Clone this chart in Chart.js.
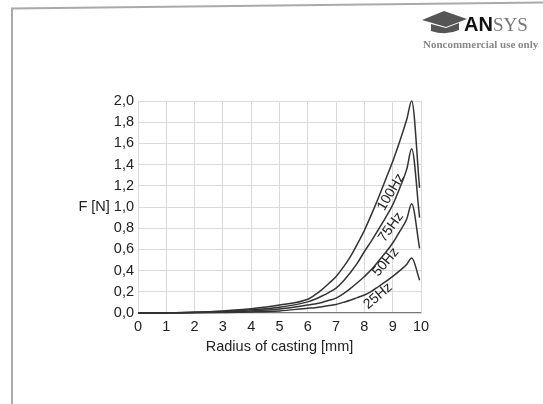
<!DOCTYPE html>
<html>
<head>
<meta charset="utf-8">
<script src="https://cdn.jsdelivr.net/npm/chart.js@4"></script>
<style>
  html, body { margin: 0; padding: 0; background: #fff; }
  #wrap { position: relative; width: 543px; height: 404px; }
</style>
</head>
<body>
<div id="wrap"><canvas id="kraftChart" width="543" height="404"></canvas></div>
<script>
// data
const radius = [0, 1, 2, 3, 4, 5, 6, 6.25, 6.5, 6.75, 7, 7.25, 7.5, 7.75, 8, 8.25, 8.5, 8.75, 9, 9.25, 9.5, 9.67, 9.95];
const f25  = [0, 0.0005, 0.002, 0.005, 0.01, 0.02, 0.045, 0.05, 0.06, 0.07, 0.08, 0.1, 0.12, 0.145, 0.17, 0.205, 0.25, 0.295, 0.345, 0.4, 0.46, 0.52, 0.31];
const f50  = [0, 0.001, 0.004, 0.01, 0.02, 0.038, 0.075, 0.085, 0.1, 0.12, 0.14, 0.18, 0.23, 0.285, 0.345, 0.41, 0.49, 0.57, 0.66, 0.77, 0.89, 1.03, 0.61];
const f75  = [0, 0.001, 0.006, 0.015, 0.03, 0.055, 0.105, 0.13, 0.16, 0.195, 0.235, 0.3, 0.38, 0.47, 0.58, 0.68, 0.79, 0.9, 1.02, 1.18, 1.36, 1.55, 0.9];
const f100 = [0, 0.002, 0.008, 0.02, 0.04, 0.075, 0.13, 0.17, 0.22, 0.28, 0.345, 0.43, 0.53, 0.65, 0.78, 0.93, 1.09, 1.26, 1.43, 1.62, 1.83, 2.0, 1.18];
const curveNames = ["25Hz", "50Hz", "75Hz", "100Hz"];
// where each curve name sits (in data units) and its slant
const labelAt = [[8.48, 0.16], [8.76, 0.48], [8.94, 0.81], [8.94, 1.14]];
const labelTilt = [-40, -50, -54, -60];
const xTitle = "Radius of casting [mm]";
const yTitle = "F [N]";

const schrift = "'Liberation Sans', Arial, sans-serif";

function punkte(werte) {
  return radius.map((r, i) => ({ x: r, y: werte[i] }));
}

const reihen = [f25, f50, f75, f100].map((w, i) => ({
  label: curveNames[i],
  data: punkte(w),
  borderColor: "#333",
  borderWidth: 1.5,
  pointRadius: 0,
  cubicInterpolationMode: "monotone",
  clip: false,
}));

// rahmen, logo und kurvennamen
const extras = {
  id: "extras",
  afterDraw(chart) {
    const ctx = chart.ctx;
    const xs = chart.scales.x, ys = chart.scales.y;
    ctx.save();

    // kurvennamen
    ctx.fillStyle = "#222";
    ctx.font = "14px " + schrift;
    ctx.textAlign = "center";
    ctx.textBaseline = "middle";
    curveNames.forEach((n, i) => {
      const px = xs.getPixelForValue(labelAt[i][0]);
      const py = ys.getPixelForValue(labelAt[i][1]);
      ctx.save();
      ctx.translate(px, py);
      ctx.rotate(labelTilt[i] * Math.PI / 180);
      ctx.fillText(n, 0, 0);
      ctx.restore();
    });

    // rahmen oben und links
    ctx.strokeStyle = "#aaa";
    ctx.lineWidth = 2;
    ctx.beginPath();
    ctx.moveTo(12, 404);
    ctx.lineTo(12, 8.5);
    ctx.lineTo(543, 2.5);
    ctx.stroke();

    // ANSYS logo
    ctx.fillStyle = "#555";
    ctx.beginPath();
    ctx.moveTo(422, 20);
    ctx.lineTo(444, 11);
    ctx.lineTo(467, 19);
    ctx.lineTo(446, 27);
    ctx.closePath();
    ctx.fill();
    ctx.beginPath();
    ctx.moveTo(431, 24);
    ctx.lineTo(431, 31);
    ctx.quadraticCurveTo(446, 36, 459, 30);
    ctx.lineTo(459, 23);
    ctx.lineTo(446, 28);
    ctx.closePath();
    ctx.fill();
    ctx.textAlign = "left";
    ctx.textBaseline = "alphabetic";
    ctx.fillStyle = "#111";
    ctx.font = "bold 20px " + schrift;
    ctx.fillText("AN", 464, 31);
    const w = ctx.measureText("AN").width;
    ctx.fillStyle = "#777";
    ctx.font = "19px 'Liberation Serif', serif";
    ctx.fillText("SYS", 464 + w, 31);
    ctx.fillStyle = "#888";
    ctx.font = "bold 11px 'Liberation Serif', serif";
    ctx.fillText("Noncommercial use only", 423, 48);

    ctx.restore();
  },
};

new Chart(document.getElementById("kraftChart"), {
  type: "line",
  data: { datasets: reihen },
  plugins: [extras],
  options: {
    responsive: false,
    animation: false,
    layout: { padding: { left: 0, right: 122, top: 101, bottom: 0 } },
    plugins: { legend: { display: false }, tooltip: { enabled: false } },
    scales: {
      x: {
        type: "linear",
        min: 0,
        max: 10,
        afterFit(s) { s.height = 91; },
        ticks: { stepSize: 1, padding: 5, color: "#222", font: { family: schrift, size: 14.5 } },
        grid: { color: "#dadada", drawTicks: false },
        border: { color: "#dadada" },
        title: {
          display: true,
          text: xTitle,
          color: "#222",
          font: { family: schrift, size: 14.5 },
          padding: { top: 0, bottom: 48 },
        },
      },
      y: {
        min: 0,
        max: 2,
        afterFit(s) { s.width = 138; },
        ticks: {
          stepSize: 0.2,
          padding: 4,
          color: "#222",
          font: { family: schrift, size: 14.5 },
          callback(v) {
            const t = v.toFixed(1).replace(".", ",");
            return Math.abs(v - 1) < 1e-9 ? yTitle + " " + t : t;
          },
        },
        grid: {
          drawTicks: false,
          color: (c) => (c.tick && c.tick.value === 0 ? "#777" : "#dadada"),
          lineWidth: (c) => (c.tick && c.tick.value === 0 ? 2 : 1),
        },
        border: { color: "#dadada" },
      },
    },
  },
});
</script>
</body>
</html>
